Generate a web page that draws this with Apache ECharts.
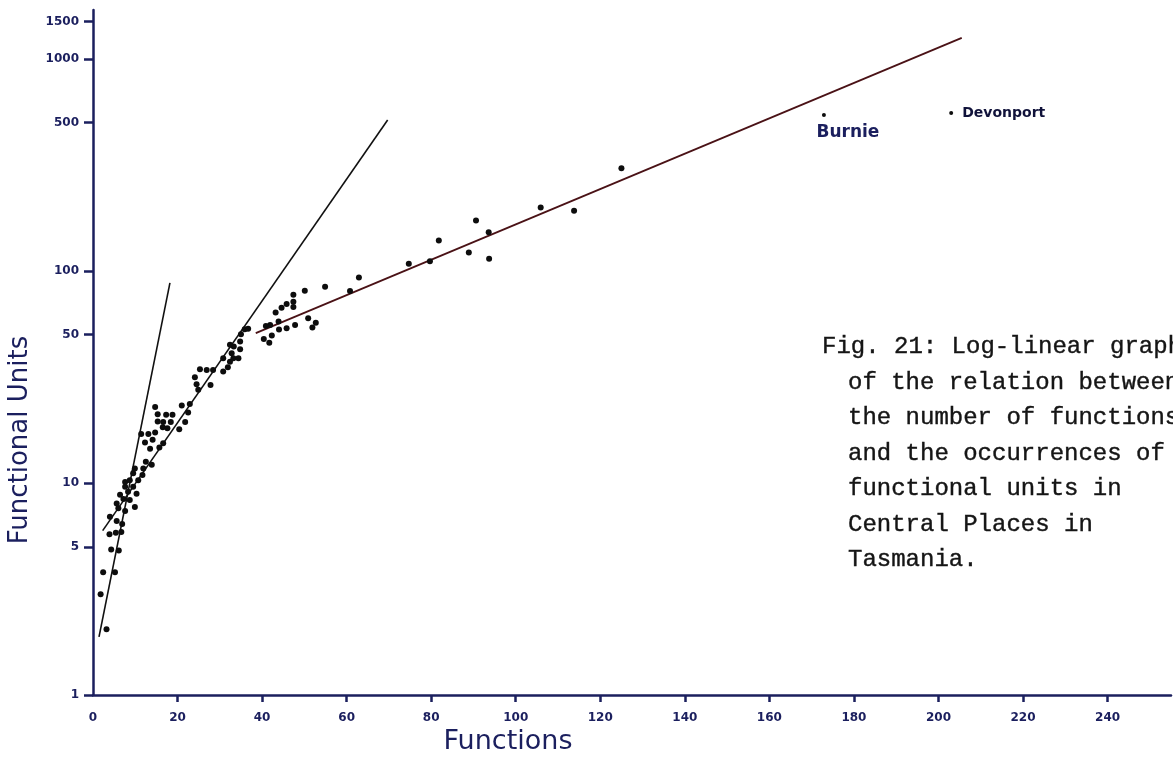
<!DOCTYPE html>
<html>
<head>
<meta charset="utf-8">
<script src="https://cdn.jsdelivr.net/npm/echarts@6/dist/echarts.min.js"></script>
<style>
html,body{margin:0;padding:0;background:#fff;}
#chart{width:1173px;height:765px;}
</style>
</head>
<body>
<div id="chart"></div>
<script>
// Number of functions (x) and functional units (y) for each central place
var functionsX = [
  1.8, 3.2, 2.4, 5.2, 4.3, 6.1, 3.9, 5.4, 6.7, 5.6, 6.9, 4.0,
  7.6, 6.0, 9.9, 5.6, 8.7, 7.2, 6.4, 10.3, 8.3, 7.6, 9.5, 7.6, 8.7, 10.7,
  9.5, 11.7, 9.9, 11.9, 12.5, 13.9, 13.5, 15.7, 12.3, 14.1, 16.6, 11.4, 13.1,
  14.7, 16.5, 17.6, 20.4, 15.3, 16.6, 18.4, 21.8, 15.3, 17.3, 18.8, 22.5,
  14.7, 21.0, 22.9,
  24.5, 27.8, 24.9, 24.1, 25.3, 26.9, 28.4, 30.8, 31.9, 32.4, 30.8, 33.2,
  34.4, 32.8, 34.8, 33.3, 32.4, 34.8, 35.0, 35.9, 36.7,
  40.4, 41.7, 42.3, 41.9, 40.9, 43.9, 44.0, 45.8, 47.8, 50.9, 52.7, 51.9,
  43.2, 44.6, 45.8, 47.4, 47.4, 47.4, 50.1, 54.9, 60.8, 62.9,
  74.7, 79.7, 81.8, 88.9, 90.6, 93.6, 93.7, 105.9, 113.8, 125.0
];
var unitsY = [
  2.99, 2.04, 3.79, 3.79, 4.85, 4.8, 5.73, 5.83, 5.87, 6.62, 6.41, 6.93,
  7.38, 7.6, 7.7, 8.0, 8.3, 8.4, 8.8, 8.9, 9.1, 9.6, 9.6, 10.1, 10.3, 10.3,
  11.1, 10.9, 11.7, 11.7, 12.6, 12.2, 14.5, 14.7, 15.5, 16.0, 15.4, 17.0, 17.0,
  17.3, 18.3, 18.1, 17.9, 19.5, 19.4, 19.4, 19.4, 21.1, 21.0, 21.0, 21.5,
  22.8, 23.2, 23.6,
  29.2, 29.0, 27.5, 31.5, 34.4, 34.1, 34.1, 33.5, 35.1, 37.3, 38.7, 38.7,
  38.7, 40.9, 42.7, 44.0, 44.8, 46.4, 50.3, 53.1, 53.4,
  47.8, 45.8, 49.6, 55.6, 55.0, 57.7, 53.0, 53.7, 55.6, 59.8, 56.9, 54.1,
  63.6, 67.0, 69.9, 71.6, 67.6, 77.1, 80.7, 84.3, 80.5, 93,
  108, 111, 139, 122, 173, 152, 114, 199, 192, 305
];
// Named towns
var namedTowns = ['Burnie', 'Devonport'];
var namedX = [172.9, 203.0];
var namedY = [544, 555];
// Fitted lines (start and end points)
var steepLine = [[1.42, 1.88], [18.2, 87.8]];
var middleLine = [[2.29, 5.96], [69.7, 515]];
var upperLine = [[38.5, 50.9], [205.5, 1256]];
// Tick labels
var xTicks = [0, 20, 40, 60, 80, 100, 120, 140, 160, 180, 200, 220, 240];
var yTicks = [1, 5, 10, 50, 100, 500, 1000, 1500];
// Caption lines
var captionLines = [
  'Fig. 21: Log-linear graph',
  'of the relation between',
  'the number of functions',
  'and the occurrences of',
  'functional units in',
  'Central Places in',
  'Tasmania.'
];

var navy = '#1b1f5e';
var points = functionsX.map(function (x, i) { return [x, unitsY[i]]; });

var labelFont = { fontFamily: 'DejaVu Sans', fontWeight: 'bold', fontSize: 12, color: navy };

var graphics = [
  { type: 'text', x: 20, y: 440, rotation: Math.PI / 2,
    style: { text: 'Functional Units', fontFamily: 'DejaVu Sans', fontSize: 26, fill: navy, align: 'center', verticalAlign: 'middle' } },
  { type: 'text', x: 508, y: 742,
    style: { text: 'Functions', fontFamily: 'DejaVu Sans', fontSize: 27, fill: navy, align: 'center', verticalAlign: 'middle' } }
];
captionLines.forEach(function (t, i) {
  graphics.push({ type: 'text', x: i === 0 ? 822 : 848, y: 347 + i * 35.5,
    style: { text: t, fontFamily: 'Liberation Mono', fontSize: 24, fill: '#151515',
             stroke: '#151515', lineWidth: 0.4, align: 'left', verticalAlign: 'middle' } });
});

var chart = echarts.init(document.getElementById('chart'));
chart.setOption({
  animation: false,
  backgroundColor: '#ffffff',
  grid: { left: 93, right: 2, top: 10, bottom: 70, containLabel: false },
  xAxis: {
    type: 'value', min: 0, max: 255,
    axisLine: { show: true, lineStyle: { color: navy, width: 2.5 } },
    axisTick: { show: true, length: 7, lineStyle: { color: navy, width: 2.5 }, customValues: xTicks.slice(1) },
    axisLabel: Object.assign({ margin: 17, customValues: xTicks, formatter: function (v) { return String(Math.round(v)); } }, labelFont),
    splitLine: { show: false }
  },
  yAxis: {
    type: 'log', logBase: 10, min: 1, max: 1700,
    axisLine: { show: true, lineStyle: { color: navy, width: 2.5 } },
    axisTick: { show: true, length: 9, lineStyle: { color: navy, width: 2.5 }, customValues: yTicks },
    axisLabel: Object.assign({ margin: 14, customValues: yTicks, formatter: function (v) { return String(Math.round(v)); } }, labelFont),
    minorTick: { show: false },
    splitLine: { show: false }
  },
  graphic: graphics,
  series: [
    { type: 'line', data: steepLine, symbol: 'none', lineStyle: { color: '#111', width: 1.6 }, z: 2 },
    { type: 'line', data: middleLine, symbol: 'none', lineStyle: { color: '#111', width: 1.6 }, z: 2 },
    { type: 'line', data: upperLine, symbol: 'none', lineStyle: { color: '#4a1216', width: 1.8 }, z: 2 },
    { type: 'scatter', data: points, symbolSize: 6, itemStyle: { color: '#0d0d0d', opacity: 1 }, z: 3 },
    { type: 'scatter', symbolSize: 4, itemStyle: { color: '#0d0d0d', opacity: 1 }, z: 3,
      data: [
        { name: namedTowns[0], value: [namedX[0], namedY[0]],
          label: { show: true, position: 'bottom', offset: [24, 2], formatter: '{b}', fontFamily: 'DejaVu Sans', fontWeight: 'bold', fontSize: 17, color: navy } },
        { name: namedTowns[1], value: [namedX[1], namedY[1]],
          label: { show: true, position: 'right', distance: 9, formatter: '{b}', fontFamily: 'DejaVu Sans', fontWeight: 'bold', fontSize: 14, color: '#10123a' } }
      ]
    }
  ]
});
</script>
</body>
</html>
